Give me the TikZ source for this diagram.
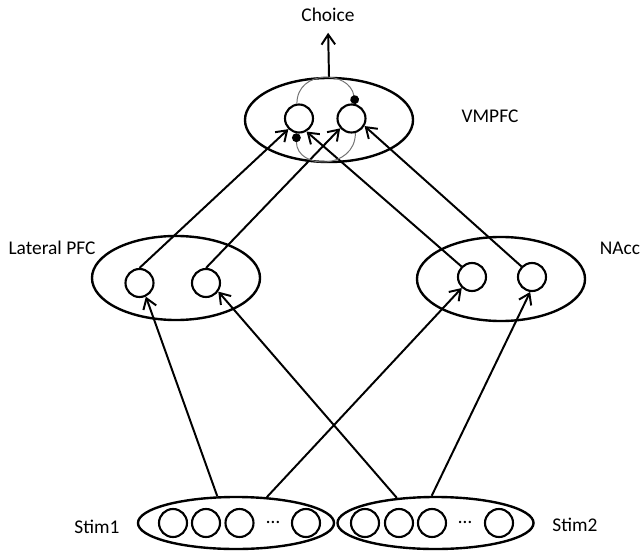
\documentclass[tikz,border=0pt]{standalone}
\usepackage{fontspec}
\setmainfont{Carlito}
\usetikzlibrary{arrows.meta,shapes.geometric}

\begin{document}
\begin{tikzpicture}[x=0.025cm, y=-0.025cm, font=\fontsize{13.8}{16}\selectfont,
  area/.style={draw, ellipse, line width=1.7pt, inner sep=0pt, minimum width=4.2cm, minimum height=2.1cm},
  stim/.style={area, minimum width=4.9cm, minimum height=1.3cm},
  unit/.style={draw, circle, line width=1.5pt, inner sep=0pt, minimum size=0.7cm},
  conn/.style={line width=1.4pt, -{Straight Barb[length=2.5mm,width=3.4mm,line width=1.4pt]}},
  inhib/.style={draw=black!55, line width=0.7pt, -{Circle[length=2.2mm,color=black]}}]
\useasboundingbox (0,0) rectangle (642,551);
% areas
\node[area] (vm) at (329,120) {};
\node[area] (lpfc) at (176,278) {};
\node[area] (nacc) at (501,279) {};
\node[stim] (st1) at (236,523) {};
\node[stim] (st2) at (435.5,523) {};
% units
\node[unit] (v1) at (299,118.5) {};
\node[unit] (v2) at (351.5,118.5) {};
\node[unit] (l1) at (139.5,283) {};
\node[unit] (l2) at (206,283) {};
\node[unit] (n1) at (472,277) {};
\node[unit] (n2) at (532,277) {};
\foreach \x [count=\i] in {173,206,239.5,306} \node[unit] (a\i) at (\x,523) {};
\foreach \x [count=\i] in {365,399,432,499} \node[unit] (b\i) at (\x,523) {};
\node (adots) at (273,522) {…};
\node (bdots) at (465,522) {…};
% labels
\node (choice) at (328,15) {Choice};
\node (vmlab) at (490,116) {VMPFC};
\node (lplab) at (52,248) {Lateral PFC};
\node (nalab) at (620,248) {NAcc};
\node (s1lab) at (97,527) {Stim1};
\node (s2lab) at (575,525) {Stim2};
% connections
\draw[conn, shorten >=1.5mm] (vm.north) -- (choice.south);
\draw[conn] (l1.north) -- (v1.225);
\draw[conn] (l2.north) -- (v2.221);
\draw[conn] (n1.135) -- (v1.-60);
\draw[conn] (n2.135) -- (v2.-30);
\draw[conn] (st1.125) -- (l1.-65);
\draw[conn] (st1.40) -- (n1.227);
\draw[conn] (st2.147) -- (l2.-35);
\draw[conn] (st2.98) -- (n2.-97);
% mutual inhibition
\draw[inhib] (v1.98) to[out=90,in=100,looseness=1.5] (v2.75);
\draw[inhib] (v2.-75) to[out=-90,in=-90,looseness=1.6] (v1.-100);
\end{tikzpicture}
\end{document}
